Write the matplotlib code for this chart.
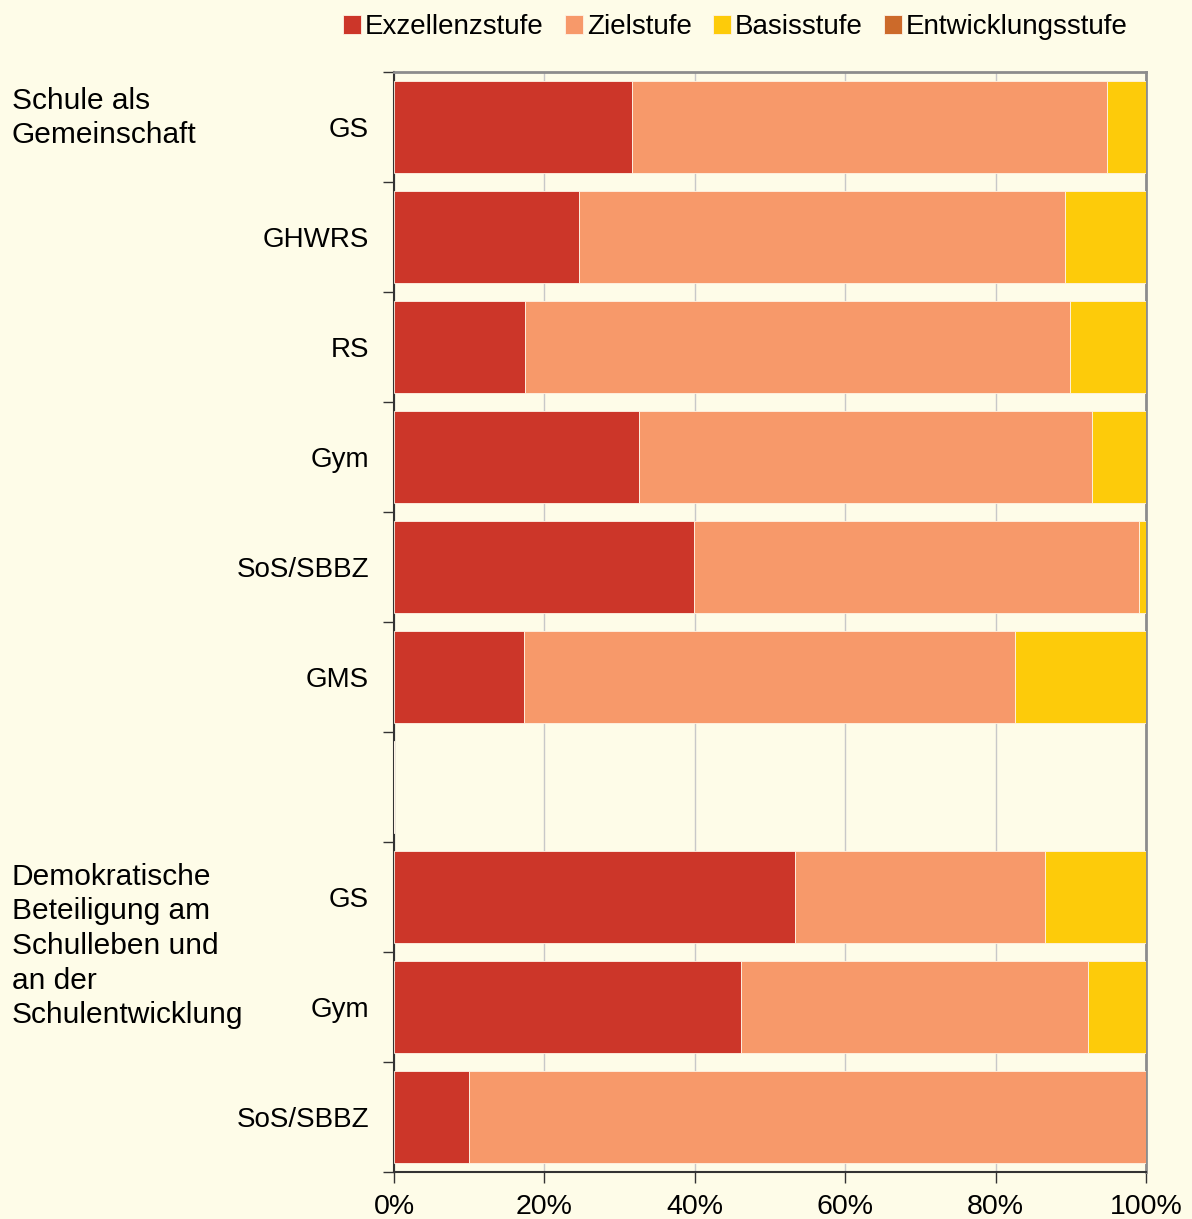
import numpy as np
import matplotlib.pyplot as plt

plt.rcParams['font.family'] = ['Liberation Sans', 'DejaVu Sans']

# Anteile je Schulart in Prozent
schularten = ["GS", "GHWRS", "RS", "Gym", "SoS/SBBZ", "GMS", "", "GS", "Gym", "SoS/SBBZ"]
exzellenz = [31.6, 24.6, 17.4, 32.6, 39.9, 17.3, 0, 53.3, 46.1, 10.0]
ziel = [63.2, 64.6, 72.5, 60.2, 59.2, 65.3, 0, 33.3, 46.2, 90.0]
basis = [5.2, 10.8, 10.1, 7.2, 0.9, 17.4, 0, 13.4, 7.7, 0.0]
entwicklung = [0, 0, 0, 0, 0, 0, 0, 0, 0, 0]

stufen = ["Exzellenzstufe", "Zielstufe", "Basisstufe", "Entwicklungsstufe"]
farben = ["#CC3629", "#F7996A", "#FDCB0A", "#CC6A2A"]

gruppen = ["Schule als\nGemeinschaft",
           "Demokratische\nBeteiligung am\nSchulleben und\nan der\nSchulentwicklung"]

BG = "#FEFCE8"

fig = plt.figure(figsize=(11.92, 12.19), dpi=100, facecolor=BG)
ax = fig.add_axes([0.3305, 0.0386, 0.6309, 0.9023], facecolor=BG)

y = np.arange(len(schularten))
links = np.zeros(len(schularten))
for werte, name, farbe in zip([exzellenz, ziel, basis, entwicklung], stufen, farben):
    werte = np.array(werte, dtype=float)
    ax.barh(y, werte, left=links, height=0.83, color=farbe, label=name,
            edgecolor="#FFF3E6", linewidth=0.6, zorder=3)
    links += werte

ax.set_xlim(0, 100)
ax.set_ylim(len(schularten) - 0.5, -0.5)
ax.set_xticks(np.arange(0, 101, 20))
ax.set_xticklabels([f"{v}%" for v in range(0, 101, 20)], fontsize=20.5)
ax.grid(axis="x", color="#C8C8C8", linewidth=1, zorder=0)

ax.set_yticks(y)
ax.set_yticklabels(schularten, fontsize=20)
ax.tick_params(axis="y", which="major", length=0, pad=18)
ax.set_yticks(np.arange(-0.5, len(schularten)), minor=True)
ax.tick_params(axis="y", which="minor", length=8, width=1, color="#333333")
ax.tick_params(axis="x", length=8, width=1, color="#333333", pad=8)

for side in ["top", "right"]:
    ax.spines[side].set_color("#8C8C8C")
    ax.spines[side].set_linewidth(2)
for side in ["left", "bottom"]:
    ax.spines[side].set_color("#333333")
    ax.spines[side].set_linewidth(1.5)

# Bereichsbeschriftungen links
fig.text(0.010, 1 - 118 / 1219, gruppen[0], fontsize=21.5, va="center", ha="left",
         linespacing=1.3)
fig.text(0.010, 1 - 946 / 1219, gruppen[1], fontsize=21.5, va="center", ha="left",
         linespacing=1.3)

fig.legend(loc="upper right", bbox_to_anchor=(0.967, 1.009), ncol=4, frameon=False,
           fontsize=20, handlelength=0.65, handleheight=0.65, handletextpad=0.15,
           columnspacing=0.75)

fig.savefig("out.png", dpi=100, facecolor=BG)
